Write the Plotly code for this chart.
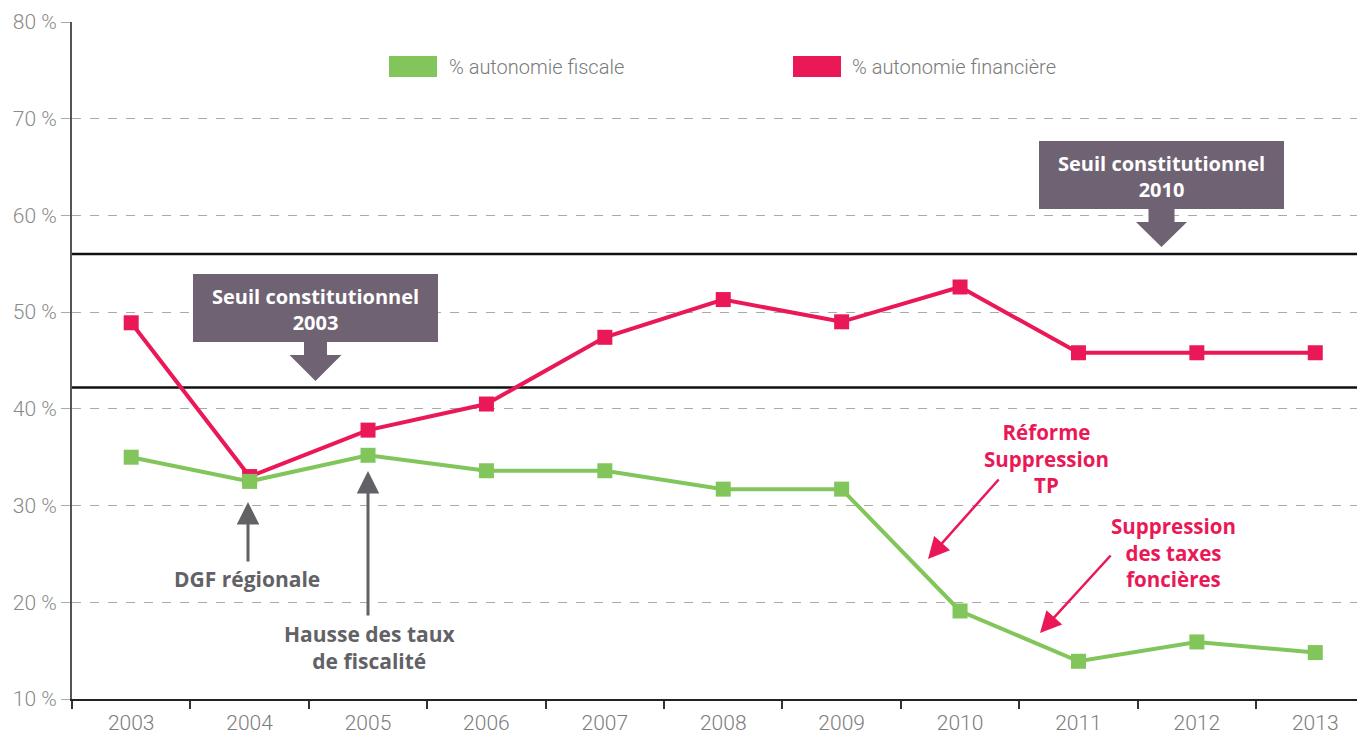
import plotly.graph_objects as go

years = ["2003", "2004", "2005", "2006", "2007", "2008", "2009", "2010", "2011", "2012", "2013"]
autonomie_fiscale = [35.0, 32.5, 35.2, 33.6, 33.6, 31.7, 31.7, 19.1, 13.9, 15.9, 14.8]
autonomie_financiere = [48.9, 33.0, 37.8, 40.5, 47.4, 51.3, 49.0, 52.6, 45.8, 45.8, 45.8]
seuil_2003 = 42.2
seuil_2010 = 56.0
y_ticks = [10, 20, 30, 40, 50, 60, 70, 80]

GREEN = "#81c55b"
RED = "#ea1857"
BOX = "#6f6373"
GRAYTXT = "#626266"
FONT = "Roboto"
BFONT = "Open Sans"

# page body has an 8px default margin; compensate so the plot lands where intended
OFF = 8
W, H = 1365 - OFF, 738 - OFF
PLOT_L, PLOT_T, PLOT_B = 72, 22, 699
ML, MR, MT = PLOT_L - OFF, 0, PLOT_T - OFF
MB = (OFF + H) - PLOT_B
PW, PH = 1365 - PLOT_L, PLOT_B - PLOT_T


def px(x):
    return (x - PLOT_L) / PW


def py(y):
    return (PLOT_B - y) / PH


fig = go.Figure()
fig.add_trace(go.Scatter(x=years, y=autonomie_financiere, mode="lines+markers",
                         line=dict(color=RED, width=4),
                         marker=dict(symbol="square", size=15, color=RED),
                         name="% autonomie financière", showlegend=False))
fig.add_trace(go.Scatter(x=years, y=autonomie_fiscale, mode="lines+markers",
                         line=dict(color=GREEN, width=4),
                         marker=dict(symbol="square", size=15, color=GREEN),
                         name="% autonomie fiscale", showlegend=False))

shapes = []
for v in [seuil_2003, seuil_2010]:
    shapes.append(dict(type="line", xref="paper", yref="y", x0=0, x1=1, y0=v, y1=v,
                       line=dict(color="#111111", width=2.5), layer="below"))


def callout(x0, x1, y0, y1, stem_w, tri_w, stem_h, tri_h):
    cx = (x0 + x1) / 2
    out = [dict(type="rect", xref="paper", yref="paper", x0=px(x0), x1=px(x1), y0=py(y1), y1=py(y0),
                fillcolor=BOX, line=dict(width=0), layer="above")]
    pts = [(cx - stem_w / 2, y1), (cx + stem_w / 2, y1), (cx + stem_w / 2, y1 + stem_h),
           (cx + tri_w / 2, y1 + stem_h), (cx, y1 + stem_h + tri_h), (cx - tri_w / 2, y1 + stem_h),
           (cx - stem_w / 2, y1 + stem_h)]
    path = "M " + " L ".join(f"{px(a):.5f},{py(b):.5f}" for a, b in pts) + " Z"
    out.append(dict(type="path", xref="paper", yref="paper", path=path,
                    fillcolor=BOX, line=dict(width=0), layer="above"))
    return out


shapes += callout(193, 438, 274, 342, 23, 52, 13, 26)
shapes += callout(1039, 1284, 141, 209, 26, 51, 13, 25)

shapes.append(dict(type="rect", xref="paper", yref="paper", x0=px(389), x1=px(437), y0=py(77), y1=py(56),
                   fillcolor=GREEN, line=dict(width=0)))
shapes.append(dict(type="rect", xref="paper", yref="paper", x0=px(793), x1=px(841), y0=py(77), y1=py(56),
                   fillcolor=RED, line=dict(width=0)))

annotations = []


def text(x, y, t, color, size, family, bold=True, xanchor="center"):
    annotations.append(dict(x=px(x), y=py(y), xref="paper", yref="paper", text=t, showarrow=False,
                            xanchor=xanchor, yanchor="middle", align="center",
                            font=dict(family=family, size=size, color=color,
                                      weight=700 if bold else 300)))


def arrow(tail, tip, color, width, size):
    annotations.append(dict(x=px(tip[0]), y=py(tip[1]), xref="paper", yref="paper", text="",
                            showarrow=True, ax=tail[0] - tip[0], ay=tail[1] - tip[1],
                            arrowhead=2, arrowsize=size, arrowwidth=width, arrowcolor=color,
                            standoff=0, startstandoff=0))


text(447, 67, "% autonomie fiscale", "#7a7a7a", 20, FONT, bold=False, xanchor="left")
text(850, 67, "% autonomie financière", "#7a7a7a", 20, FONT, bold=False, xanchor="left")

text(315, 309, "Seuil constitutionnel<br>2003", "white", 20, BFONT)
text(1161, 176, "Seuil constitutionnel<br>2010", "white", 20, BFONT)

text(1046, 458, "Réforme<br>Suppression<br>TP", RED, 20.5, BFONT)
text(1173, 552, "Suppression<br>des taxes<br>foncières", RED, 20.5, BFONT)
arrow((1000, 478), (928, 559), RED, 2.5, 1.7)
arrow((1112, 554), (1040, 633), RED, 2.5, 1.7)

text(247, 579, "DGF régionale", GRAYTXT, 21, BFONT)
text(369, 647, "Hausse des taux<br>de fiscalité", GRAYTXT, 21, BFONT)
arrow((248, 563), (248, 502), GRAYTXT, 3, 1.5)
arrow((368, 617), (368, 471), GRAYTXT, 3, 1.5)

fig.update_layout(
    width=W, height=H,
    margin=dict(l=ML, r=MR, t=MT, b=MB, pad=0),
    paper_bgcolor="white", plot_bgcolor="white",
    font=dict(family=FONT),
    shapes=shapes, annotations=annotations,
    showlegend=False,
    xaxis=dict(type="category", range=[-0.5, 10.42], showgrid=False, zeroline=False,
               showline=True, linecolor="#222222", linewidth=2,
               ticks="outside", tickson="boundaries", ticklen=8, tickcolor="#333333", tickwidth=2,
               ticklabelstandoff=4,
               tickfont=dict(family=FONT, size=21, color="#7d7d7d", weight=300), fixedrange=True),
    yaxis=dict(range=[10, 80], tickvals=y_ticks, ticktext=[f"{v} %" for v in y_ticks],
               showgrid=True, gridcolor="#aaaaaa", gridwidth=1, griddash="dash",
               zeroline=False, showline=True, linecolor="#555555", linewidth=2,
               ticks="outside", ticklen=9, tickcolor="#aaaaaa", tickwidth=1,
               tickfont=dict(family=FONT, size=21, color="#8a8a8a", weight=300), fixedrange=True),
)

fig.write_html("out.html")
